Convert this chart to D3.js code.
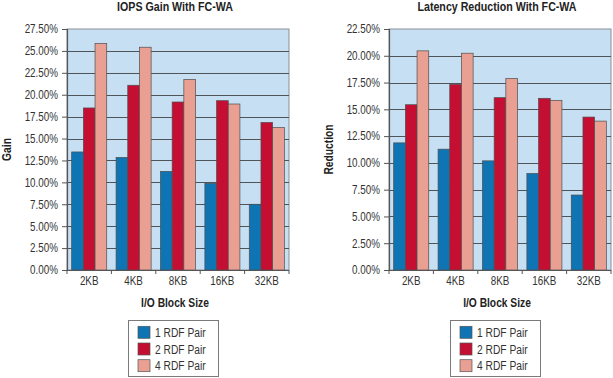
<!DOCTYPE html>
<html>
<head>
<meta charset="utf-8">
<script src="https://cdn.jsdelivr.net/npm/d3@7"></script>
<style>
  html, body { margin: 0; padding: 0; background: #ffffff; }
  svg { display: block; }
  text { font-family: "Liberation Sans", Arial, sans-serif; }
</style>
</head>
<body>
<svg id="chart" width="613" height="378"></svg>
<script>
const categories = ["2KB", "4KB", "8KB", "16KB", "32KB"];
const seriesNames = ["1 RDF Pair", "2 RDF Pair", "4 RDF Pair"];
const seriesColors = ["#0f74b4", "#c50f32", "#e9a092"];

// IOPS gain (%)
const iops1 = [13.47, 12.85, 11.25, 9.89, 7.50];
const iops2 = [18.49, 21.08, 19.17, 19.32, 16.84];
const iops4 = [25.83, 25.42, 21.75, 18.94, 16.26];

// Latency reduction (%)
const lat1 = [11.87, 11.28, 10.19, 9.01, 7.00];
const lat2 = [15.43, 17.34, 16.09, 16.03, 14.28];
const lat4 = [20.46, 20.24, 17.87, 15.84, 13.90];

const iopsTicks = [0, 2.5, 5, 7.5, 10, 12.5, 15, 17.5, 20, 22.5, 25, 27.5];
const latTicks = [0, 2.5, 5, 7.5, 10, 12.5, 15, 17.5, 20, 22.5];

const svg = d3.select("#chart");

function condense(sel, sx) {
  sel.each(function () {
    const t = d3.select(this);
    const x = +t.attr("x") || 0;
    const prev = t.attr("transform") || "";
    t.attr("transform", `${prev} translate(${x},0) scale(${sx},1) translate(${-x},0)`);
  });
}

function drawChart(cfg) {
  const g = svg.append("g");
  const x0 = d3.scaleBand().domain(categories).range([cfg.left, cfg.right]).padding(0);
  const x1 = d3.scaleBand().domain(seriesNames).range([0, x0.bandwidth()]).paddingInner(0).paddingOuter(0.4);
  const y = d3.scaleLinear().domain([0, cfg.max]).range([cfg.bottom, cfg.top]);

  // plot background
  g.append("rect")
    .attr("x", cfg.left).attr("y", cfg.top)
    .attr("width", cfg.right - cfg.left).attr("height", cfg.bottom - cfg.top)
    .attr("fill", "#c6dff3").attr("stroke", "#8a8f94").attr("stroke-width", 1);

  // grid lines
  g.selectAll(".grid").data(cfg.ticks.filter(t => t > 0 && t < cfg.max)).enter()
    .append("line")
    .attr("x1", cfg.left).attr("x2", cfg.right)
    .attr("y1", d => Math.round(y(d)) + 0.5).attr("y2", d => Math.round(y(d)) + 0.5)
    .attr("stroke", "#4f5459").attr("stroke-width", 1.2);

  // bars
  const rows = categories.map((c, i) => ({cat: c, vals: cfg.data.map(s => s[i])}));
  const grp = g.selectAll(".grp").data(rows).enter().append("g")
    .attr("transform", d => `translate(${x0(d.cat)},0)`);
  grp.selectAll("rect").data(d => d.vals.map((v, k) => ({name: seriesNames[k], v, k}))).enter()
    .append("rect")
    .attr("x", d => x1(d.name))
    .attr("y", d => y(d.v))
    .attr("width", x1.bandwidth())
    .attr("height", d => cfg.bottom - y(d.v))
    .attr("fill", d => seriesColors[d.k])
    .attr("stroke", "#4e4e4e").attr("stroke-width", 0.7);

  // y axis
  const yAxis = d3.axisLeft(y).tickValues(cfg.ticks).tickSize(5).tickPadding(4)
    .tickFormat(d => d.toFixed(2) + "%");
  const ya = g.append("g").attr("transform", `translate(${cfg.left},0)`).call(yAxis);
  ya.select(".domain").attr("stroke", "#555").attr("stroke-width", 1.2);
  ya.selectAll(".tick line").attr("stroke", "#555");
  ya.selectAll(".tick text").attr("font-size", 12).attr("fill", "#333")
    .style("font-family", '"Liberation Sans", Arial, sans-serif');
  condense(ya.selectAll(".tick text"), 0.82);

  // x axis: category labels, ticks at boundaries
  const xa = g.append("g");
  xa.append("line").attr("x1", cfg.left).attr("x2", cfg.right)
    .attr("y1", cfg.bottom + 0.5).attr("y2", cfg.bottom + 0.5)
    .attr("stroke", "#555").attr("stroke-width", 1.2);
  const bounds = categories.map(c => x0(c)).concat([cfg.right]);
  xa.selectAll(".xt").data(bounds).enter().append("line")
    .attr("x1", d => d).attr("x2", d => d)
    .attr("y1", cfg.bottom).attr("y2", cfg.bottom + 4)
    .attr("stroke", "#555");
  const xl = xa.selectAll(".xl").data(categories).enter().append("text")
    .attr("x", d => x0(d) + x0.bandwidth() / 2)
    .attr("y", cfg.bottom + 15)
    .attr("text-anchor", "middle")
    .attr("font-size", 12).attr("fill", "#333")
    .text(d => d);
  condense(xl, 0.82);

  const cx = (cfg.left + cfg.right) / 2;
  // title
  const tt = g.append("text").attr("x", cx - 3).attr("y", 11)
    .attr("text-anchor", "middle").attr("font-size", 13).attr("font-weight", "bold")
    .attr("fill", "#222").text(cfg.title);
  condense(tt, 0.82);
  // x title
  const xt = g.append("text").attr("x", cx - 3).attr("y", 307)
    .attr("text-anchor", "middle").attr("font-size", 12.5).attr("font-weight", "bold")
    .attr("fill", "#222").text("I/O Block Size");
  condense(xt, 0.82);
  // y title
  const yt = g.append("text")
    .attr("transform", `translate(${cfg.yTitleX},${(cfg.top + cfg.bottom) / 2}) rotate(-90)`)
    .attr("text-anchor", "middle").attr("font-size", 12.5).attr("font-weight", "bold")
    .attr("fill", "#222").text(cfg.yTitle);
  condense(yt, 0.82);

  // legend
  const lx = cx - 50, ly = 320;
  const lg = g.append("g");
  lg.append("rect").attr("x", lx + 0.5).attr("y", ly + 0.5).attr("width", 90).attr("height", 56)
    .attr("fill", "#ffffff").attr("stroke", "#7a7a7a").attr("stroke-width", 1);
  const items = lg.selectAll(".li").data(seriesNames).enter().append("g")
    .attr("transform", (d, i) => `translate(${lx + 10},${ly + 12.3 + i * 16.7})`);
  items.append("rect").attr("x", 0).attr("y", -6).attr("width", 12).attr("height", 12)
    .attr("fill", (d, i) => seriesColors[i]).attr("stroke", "#555").attr("stroke-width", 0.7);
  const lt = items.append("text").attr("x", 17).attr("y", 4.5)
    .attr("font-size", 12.5).attr("fill", "#333").text(d => d);
  condense(lt, 0.82);
}

drawChart({
  left: 67, right: 289, top: 29, bottom: 270, max: 27.5,
  ticks: iopsTicks, data: [iops1, iops2, iops4],
  title: "IOPS Gain With FC-WA", yTitle: "Gain", yTitleX: 11
});
drawChart({
  left: 389, right: 611, top: 29, bottom: 270, max: 22.5,
  ticks: latTicks, data: [lat1, lat2, lat4],
  title: "Latency Reduction With FC-WA", yTitle: "Reduction", yTitleX: 333
});
</script>
</body>
</html>
